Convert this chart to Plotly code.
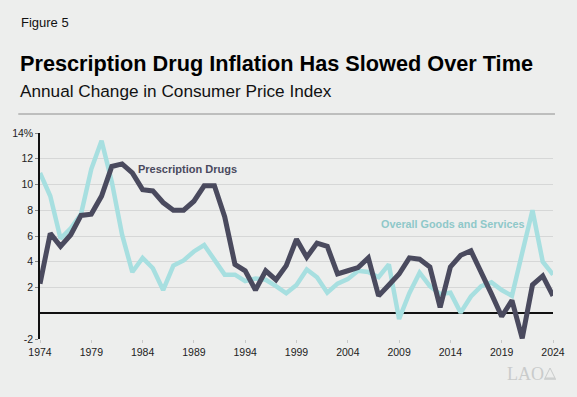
import plotly.graph_objects as go

years = list(range(1974, 2025))
prescription_drugs = [2.3, 6.2, 5.2, 6.1, 7.6, 7.7, 9.1, 11.4, 11.6, 10.9,
                      9.6, 9.5, 8.6, 8.0, 8.0, 8.7, 9.9, 9.9, 7.5, 3.8,
                      3.3, 1.8, 3.3, 2.6, 3.7, 5.75, 4.35, 5.45, 5.2, 3.05,
                      3.3, 3.55, 4.3, 1.35, 2.2, 3.05, 4.3, 4.2, 3.6, 0.45,
                      3.6, 4.5, 4.85, 3.25, 1.5, -0.25, 1.0, -1.95, 2.2, 2.9,
                      1.35]
overall = [10.9, 9.1, 5.8, 6.6, 7.7, 11.2, 13.4, 10.2, 6.1, 3.2,
           4.3, 3.5, 1.8, 3.7, 4.1, 4.8, 5.3, 4.1, 3.0, 3.0,
           2.5, 2.7, 2.6, 2.1, 1.55, 2.2, 3.4, 2.8, 1.6, 2.3,
           2.65, 3.3, 3.2, 2.8, 3.8, -0.45, 1.55, 3.15, 2.1, 1.5,
           1.6, 0.05, 1.3, 2.1, 2.4, 1.8, 1.35, 4.7, 8.0, 4.0,
           3.0]
x_ticks = list(range(1974, 2025, 5))
y_ticks = [-2, 2, 4, 6, 8, 10, 12, 14]
y_ticktext = ["-2", "2", "4", "6", "8", "10", "12", "14%"]

W, H = 577, 397
L, R, T, B = 36, 21, 133, 58
PW, PH = W - L - R, H - T - B


def px(x):
    return (x - L) / PW


def py(y):
    return (H - B - y) / PH


FONT = "Liberation Sans, Arial, Helvetica, sans-serif"
DARK = "#4a4a5e"
LIGHT = "#a7dfe0"
BG = "#edeeed"

fig = go.Figure()
fig.add_trace(go.Scatter(x=years, y=overall, mode="lines",
                         line=dict(color=LIGHT, width=4.5), hoverinfo="skip"))
fig.add_trace(go.Scatter(x=years, y=prescription_drugs, mode="lines",
                         line=dict(color=DARK, width=5), hoverinfo="skip"))

annotations = [
    dict(text="Figure 5", x=px(15), y=py(22.5), xanchor="left", yanchor="middle",
         font=dict(family=FONT, size=13, color="#111")),
    dict(text="<b>Prescription Drug Inflation Has Slowed Over Time</b>",
         x=px(14), y=py(63.5), xanchor="left", yanchor="middle",
         font=dict(family=FONT, size=21.7, color="#000")),
    dict(text="Annual Change in Consumer Price Index", x=px(14), y=py(90.5),
         xanchor="left", yanchor="middle",
         font=dict(family=FONT, size=17.2, color="#111")),
    dict(text="LAO", x=px(528), y=py(373.5), xanchor="center", yanchor="middle",
         font=dict(family="Liberation Serif, Times New Roman, serif", size=18,
                   color="#c9cbcb")),
]
for a in annotations:
    a.update(xref="paper", yref="paper", showarrow=False)

annotations += [
    dict(text="<b>Prescription Drugs</b>", x=1988.4, y=11.2, xref="x", yref="y",
         showarrow=False, font=dict(family=FONT, size=11, color=DARK)),
    dict(text="<b>Overall Goods and Services</b>", x=2014.2, y=6.9, xref="x",
         yref="y", showarrow=False, font=dict(family=FONT, size=10.8, color="#8fc8c9")),
]

shapes = [
    dict(type="line", xref="paper", yref="paper", x0=px(14), x1=px(558),
         y0=py(114), y1=py(114), line=dict(color="#8e8e8e", width=1)),
    # small dome icon next to LAO
    dict(type="path", xref="paper", yref="paper",
         path=f"M {px(548)},{py(378)} L {px(553)},{py(368)} L {px(558)},{py(378)} Z",
         line=dict(color="#c9cbcb", width=1), fillcolor="rgba(0,0,0,0)"),
    dict(type="line", xref="paper", yref="paper", x0=px(547), x1=px(559),
         y0=py(379), y1=py(379), line=dict(color="#c9cbcb", width=1.5)),
]

fig.update_layout(
    width=W, height=H,
    margin=dict(l=L, r=R, t=T, b=B, pad=0),
    paper_bgcolor=BG, plot_bgcolor=BG,
    showlegend=False,
    font=dict(family=FONT, size=10.5, color="#222"),
    annotations=annotations,
    shapes=shapes,
)
fig.update_xaxes(range=[1974, 2024], tickvals=x_ticks, showgrid=False,
                 showline=False, zeroline=False, ticks="outside", ticklen=3,
                 tickcolor="#c8c9c9", tickwidth=1,
                 tickfont=dict(family=FONT, size=10.5, color="#222"))
fig.update_yaxes(range=[-2, 14], tickvals=y_ticks, ticktext=y_ticktext,
                 showgrid=True, gridcolor="#d6d7d7", gridwidth=1,
                 zeroline=True, zerolinecolor="#111", zerolinewidth=1.5,
                 showline=True, linecolor="#111", linewidth=1.5,
                 ticks="outside", ticklen=3, tickcolor="#888",
                 tickfont=dict(family=FONT, size=10.5, color="#222"))

fig.write_html(
    "out.html",
    config={"displayModeBar": False},
    post_script="document.body.style.margin='0';"
                "document.body.style.background='#edeeed';",
)
